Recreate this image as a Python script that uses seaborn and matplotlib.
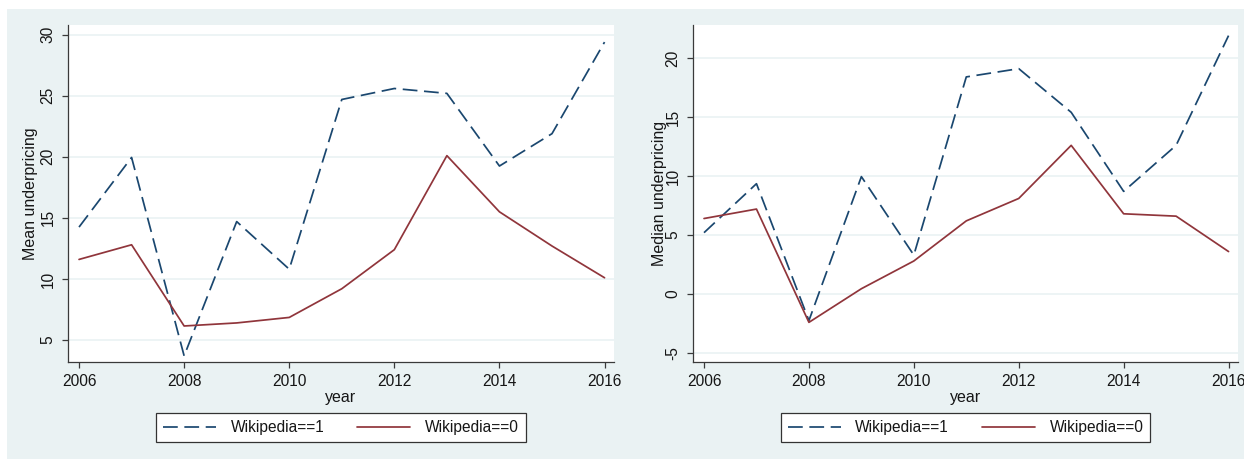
import matplotlib
matplotlib.use("Agg")
import matplotlib.pyplot as plt
from matplotlib.patches import Rectangle
import numpy as np
import pandas as pd
import seaborn as sns

# Underpricing by year, split by whether the firm has a Wikipedia page
years = list(range(2006, 2017))
mean_wiki1 = [14.25, 19.95, 3.7, 14.7, 10.8, 24.7, 25.6, 25.2, 19.25, 21.9, 29.4]
mean_wiki0 = [11.6, 12.8, 6.15, 6.4, 6.85, 9.2, 12.4, 20.1, 15.5, 12.7, 10.1]
median_wiki1 = [5.2, 9.35, -2.25, 9.95, 3.3, 18.4, 19.1, 15.4, 8.7, 12.6, 21.9]
median_wiki0 = [6.4, 7.2, -2.4, 0.45, 2.8, 6.2, 8.1, 12.6, 6.8, 6.6, 3.6]

groups = ["Wikipedia==1", "Wikipedia==0"]
mean_yticks = [5, 10, 15, 20, 25, 30]
median_yticks = [-5, 0, 5, 10, 15, 20]
xticks = [2006, 2008, 2010, 2012, 2014, 2016]

NAVY = "#1a476f"
MAROON = "#90353b"
BG = "#eaf2f3"
SPINE = "#3a3a3a"
TXT = "#161616"
FS = 11.2


def long_frame(a, b, name):
    return pd.DataFrame({
        "year": years * 2,
        name: list(a) + list(b),
        "group": [groups[0]] * len(years) + [groups[1]] * len(years),
    })


df_mean = long_frame(mean_wiki1, mean_wiki0, "Mean underpricing")
df_median = long_frame(median_wiki1, median_wiki0, "Median underpricing")

sns.set_theme(style="white")
plt.rcParams["font.family"] = ["Liberation Sans", "DejaVu Sans"]
plt.rcParams["font.size"] = FS
plt.rcParams["axes.unicode_minus"] = False

W, H = 1244, 459
fig = plt.figure(figsize=(W / 100, H / 100), dpi=100)
fig.patch.set_facecolor("white")
fig.add_artist(Rectangle((7 / W, 0), 1 - 7 / W, 1 - 9 / H, transform=fig.transFigure,
                         facecolor=BG, edgecolor="none", zorder=-10))

palette = {groups[0]: NAVY, groups[1]: MAROON}
dashes = {groups[0]: (8.5, 3.8), groups[1]: ""}


def panel(rect, df, ycol, ylim, yticks, ylabelpad):
    ax = fig.add_axes(rect)
    ax.set_facecolor("white")
    sns.lineplot(data=df, x="year", y=ycol, hue="group", style="group",
                 palette=palette, dashes=dashes, linewidth=1.25,
                 legend=False, ax=ax, zorder=3)
    ax.set_xlim(2005.79, 2016.18)
    ax.set_ylim(*ylim)
    ax.set_xticks(xticks)
    ax.set_yticks(yticks)
    ax.grid(axis="y", color=BG, linewidth=1.2, zorder=0)
    ax.grid(axis="x", visible=False)
    for s in ["top", "right"]:
        ax.spines[s].set_visible(False)
    for s in ["left", "bottom"]:
        ax.spines[s].set_color(SPINE)
        ax.spines[s].set_linewidth(0.9)
    ax.tick_params(axis="both", direction="out", length=4.5, width=0.9,
                   bottom=True, left=True, color=SPINE, labelsize=FS,
                   pad=4.5, labelcolor=TXT)
    for lab in ax.get_yticklabels():
        lab.set_rotation(90)
        lab.set_va("center")
    ax.set_xlabel("year", fontsize=FS + 0.3, labelpad=0.5, color=TXT)
    ax.set_ylabel(ycol, fontsize=FS + 0.3, labelpad=ylabelpad, color=TXT)
    return ax


ax1 = panel([68 / W, 97 / H, 546 / W, 337 / H], df_mean, "Mean underpricing",
            (3.2, 30.8), mean_yticks, 2)
ax2 = panel([693 / W, 97 / H, 545 / W, 337 / H], df_median, "Median underpricing",
            (-5.76, 22.8), median_yticks, -1)

for ax, cx in [(ax1, 341), (ax2, 965.5)]:
    handles = ax.get_lines()[:2]
    leg = fig.legend(handles, groups, loc="center", ncol=2,
                     bbox_to_anchor=(cx / W, 1 - 427.5 / H),
                     bbox_transform=fig.transFigure,
                     frameon=True, fancybox=False, fontsize=FS,
                     handlelength=3.4, handletextpad=0.95, columnspacing=2.1,
                     borderpad=0.45, borderaxespad=0)
    fr = leg.get_frame()
    fr.set_edgecolor("#333333")
    fr.set_linewidth(0.9)
    fr.set_facecolor("white")
    fr.set_alpha(1)
    for t in leg.get_texts():
        t.set_color(TXT)

fig.savefig("out.png", dpi=100)
